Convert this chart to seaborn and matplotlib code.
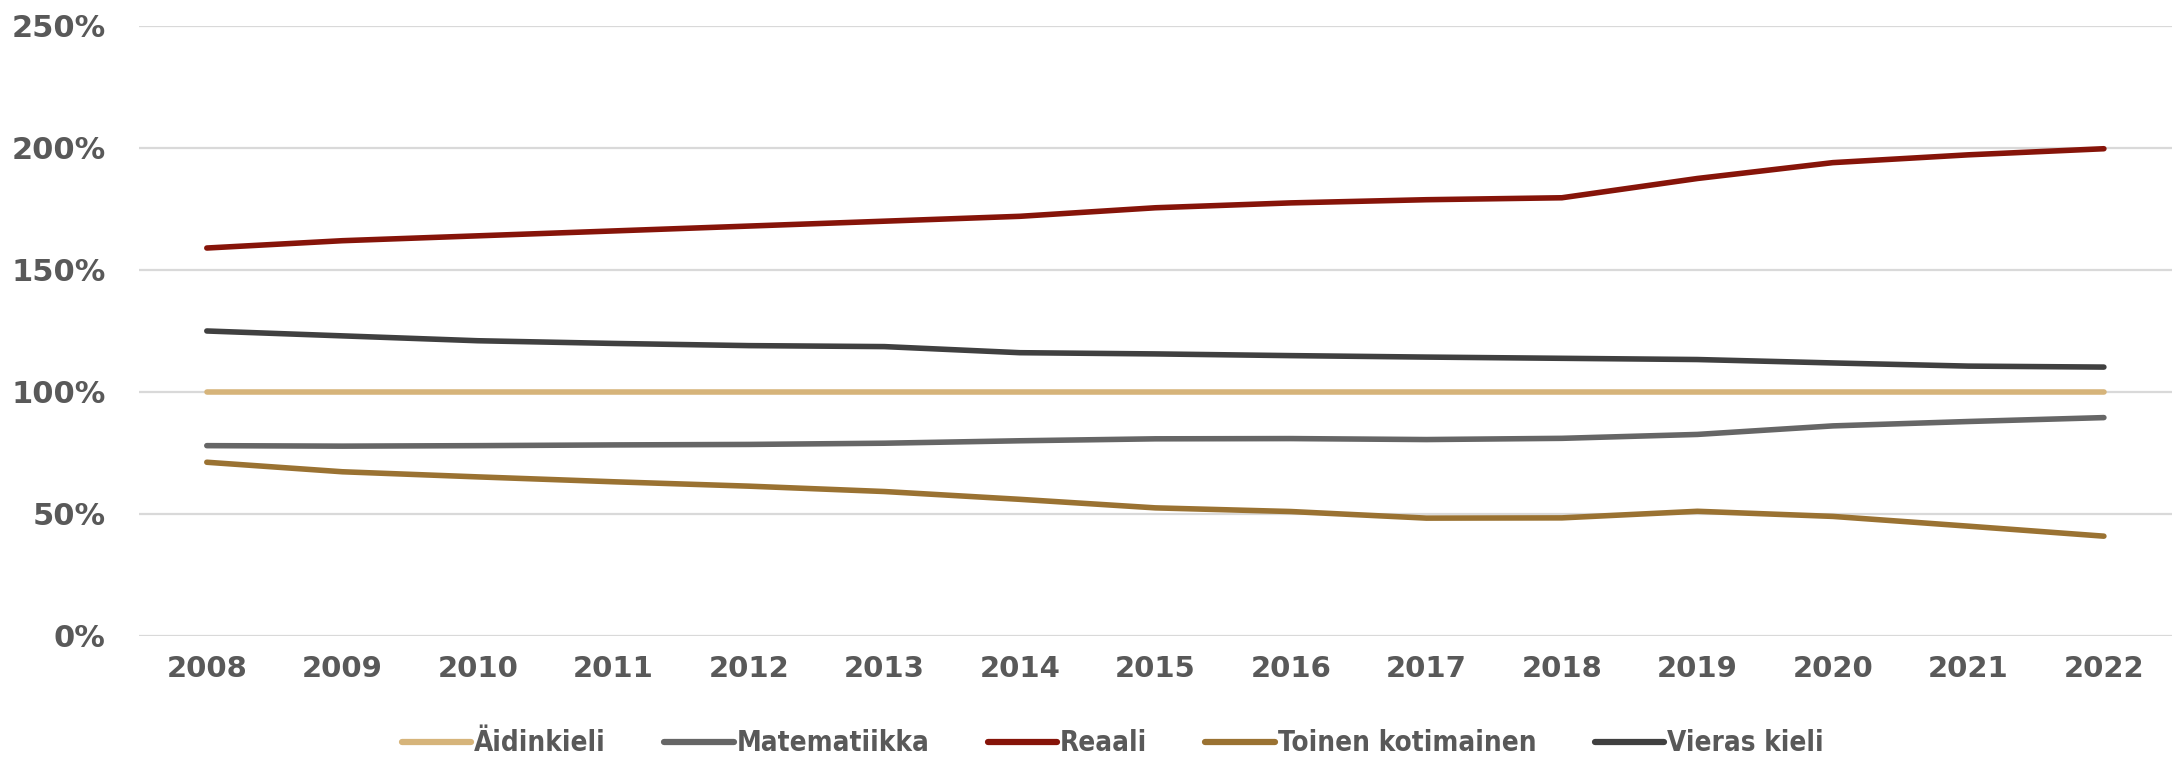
import numpy as np
import pandas as pd
import matplotlib.pyplot as plt
import seaborn as sns

years = list(range(2008, 2023))
aidinkieli = [100, 100, 100, 100, 100, 100, 100, 100, 100, 100, 100, 100, 100, 100, 100]
matematiikka = [78.0, 77.8, 78.0, 78.3, 78.5, 79.0, 80.0, 80.8, 80.9, 80.5, 81.0, 82.6, 86.1, 87.9, 89.5]
reaali = [159, 162, 164, 166, 168, 170, 172, 175.5, 177.5, 178.8, 179.6, 187.5, 194, 197.2, 199.7]
toinen = [71.2, 67.3, 65.2, 63.2, 61.4, 59.2, 56.0, 52.5, 51.0, 48.3, 48.4, 51.1, 49.0, 45.0, 40.9]
vieras = [125.0, 123.0, 121.0, 119.9, 119.0, 118.6, 116.1, 115.6, 114.9, 114.3, 113.8, 113.3, 111.9, 110.6, 110.2]

series = ["Äidinkieli", "Matematiikka", "Reaali", "Toinen kotimainen", "Vieras kieli"]
colors = ["#D6B47A", "#666666", "#861409", "#9A7232", "#404040"]

df = pd.DataFrame({
    "vuosi": years * 5,
    "arvo": aidinkieli + matematiikka + reaali + toinen + vieras,
    "aine": sum([[s] * len(years) for s in series], []),
})
df["pos"] = df["vuosi"] - years[0]

sns.set_style("white")
plt.rcParams["font.family"] = ["DejaVu Sans"]

fig = plt.figure(figsize=(21.76, 7.58), dpi=100)
ax = fig.add_axes([0.0639, 0.161, 0.9341, 0.8047])

sns.lineplot(data=df, x="pos", y="arvo", hue="aine", hue_order=series,
             palette=colors, linewidth=4, ax=ax, legend=False,
             solid_capstyle="round")

ax.set_xlim(-0.5, len(years) - 0.5)
ax.set_ylim(0, 250)
ax.set_yticks(np.arange(0, 251, 50))
ax.set_yticklabels([f"{v}%" for v in range(0, 251, 50)])
ax.set_xticks(range(len(years)))
ax.set_xticklabels([str(y) for y in years])
ax.grid(axis="y", color="#D9D9D9", linewidth=1.6)
ax.grid(axis="x", visible=False)
for s in ax.spines.values():
    s.set_visible(False)
ax.tick_params(length=0, labelcolor="#595959")
ax.tick_params(axis="x", labelsize=21, pad=14)
ax.tick_params(axis="y", labelsize=22, pad=24)
for lab in ax.get_xticklabels() + ax.get_yticklabels():
    lab.set_fontweight("bold")
ax.set_xlabel("")
ax.set_ylabel("")

handles = [plt.Line2D([], [], color=c, linewidth=4.5) for c in colors]
leg = ax.legend(handles, series, loc="upper center", bbox_to_anchor=(0.479, -0.112),
                ncol=5, frameon=False, handlelength=2.5, handletextpad=0.1,
                columnspacing=2.1,
                prop={"family": ["Liberation Sans Narrow", "DejaVu Sans"],
                      "weight": "bold", "size": 20, "stretch": "condensed"})
for t in leg.get_texts():
    t.set_color("#595959")

fig.savefig("out.png", dpi=100)
